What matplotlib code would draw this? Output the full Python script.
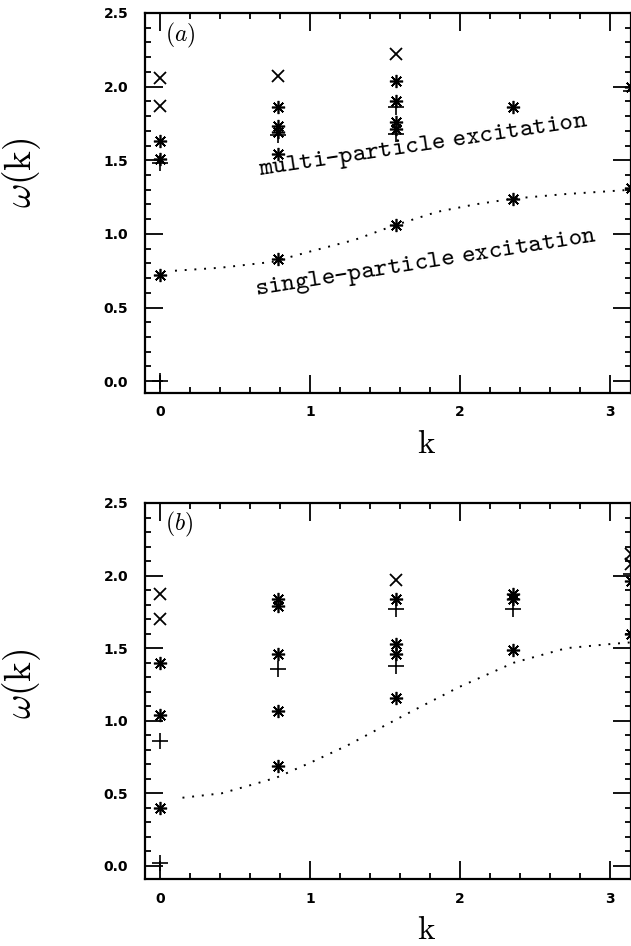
import numpy as np
import matplotlib
matplotlib.use("Agg")
import matplotlib.pyplot as plt
from matplotlib.ticker import MultipleLocator, FormatStrFormatter

plt.rcParams['mathtext.fontset'] = 'cm'
plt.rcParams['font.family'] = ['DejaVu Sans']

# panel (a) data
a_cross_k = [0.0, 0.0, 0.785, 1.571]
a_cross_w = [2.06, 1.87, 2.07, 2.22]
a_star_k = [0.0, 0.0, 0.0, 0.785, 0.785, 0.785, 0.785, 0.785,
            1.571, 1.571, 1.571, 1.571, 1.571, 2.356, 2.356, 3.1416, 3.1416]
a_star_w = [1.63, 1.51, 0.72, 1.86, 1.73, 1.69, 1.54, 0.83,
            2.04, 1.90, 1.76, 1.71, 1.06, 1.86, 1.24, 2.00, 1.31]
a_plus_k = [0.0, 0.0, 0.785, 1.571, 1.571, 3.1416]
a_plus_w = [1.48, 0.0, 1.67, 1.86, 1.68, 1.97]
a_curve_k = [0.1, 0.4, 0.75, 1.0, 1.3, 1.57, 1.85, 2.1, 2.36, 2.7, 3.0, 3.1416]
a_curve_w = [0.75, 0.77, 0.81, 0.88, 0.96, 1.06, 1.15, 1.20, 1.24, 1.27, 1.29, 1.30]

# panel (b) data
b_cross_k = [0.0, 0.0, 1.571, 3.1416, 3.1416]
b_cross_w = [1.87, 1.70, 1.97, 2.15, 2.08]
b_star_k = [0.0, 0.0, 0.0, 0.785, 0.785, 0.785, 0.785, 0.785,
            1.571, 1.571, 1.571, 1.571, 2.356, 2.356, 2.356, 3.1416, 3.1416]
b_star_w = [1.40, 1.04, 0.40, 1.84, 1.79, 1.46, 1.07, 0.69,
            1.84, 1.53, 1.46, 1.16, 1.87, 1.84, 1.49, 1.96, 1.60]
b_plus_k = [0.0, 0.0, 0.785, 1.571, 1.571, 2.356, 3.1416]
b_plus_w = [0.86, 0.02, 1.36, 1.77, 1.38, 1.77, 2.01]
b_curve_k = [0.15, 0.41, 0.65, 0.78, 1.0, 1.25, 1.45, 1.67, 1.99, 2.36, 2.71, 3.02, 3.1416]
b_curve_w = [0.47, 0.50, 0.57, 0.61, 0.71, 0.83, 0.94, 1.06, 1.23, 1.40, 1.50, 1.53, 1.54]

fig = plt.figure(figsize=(6.31, 9.46), dpi=100)
ax_a = fig.add_axes([0.2298, 0.5846, 0.7702, 0.4017])
ax_b = fig.add_axes([0.2298, 0.0708, 0.7702, 0.3975])

asterisk = (8, 2, 0)


def draw_panel(ax, cross_k, cross_w, star_k, star_w, plus_k, plus_w, curve_k, curve_w, ylo, tag):
    ax.plot(curve_k, curve_w, color='black', lw=1.4, ls=(0, (1, 4)))
    ax.plot(cross_k, cross_w, ls='none', marker='x', ms=8.5, mew=1.3, color='black')
    ax.plot(star_k, star_w, ls='none', marker=asterisk, ms=9.5, mew=1.2, color='black')
    ax.plot(plus_k, plus_w, ls='none', marker='+', ms=11, mew=1.2, color='black')

    ax.set_xlim(-0.1, 3.1416)
    ax.set_ylim(ylo, 2.5)
    ax.xaxis.set_major_locator(MultipleLocator(1))
    ax.xaxis.set_minor_locator(MultipleLocator(0.2))
    ax.yaxis.set_major_locator(MultipleLocator(0.5))
    ax.yaxis.set_minor_locator(MultipleLocator(0.1))
    ax.yaxis.set_major_formatter(FormatStrFormatter('%.1f'))
    ax.tick_params(which='both', direction='in', top=True, right=True, width=1.3)
    ax.tick_params(which='major', length=13, labelsize=10)
    ax.tick_params(axis='y', which='major', pad=12)
    ax.tick_params(axis='x', which='major', pad=9)
    ax.tick_params(which='minor', length=4)
    for lbl in ax.get_xticklabels() + ax.get_yticklabels():
        lbl.set_fontweight('bold')
    for sp in ax.spines.values():
        sp.set_linewidth(1.6)

    ax.set_xlabel(r'$\mathrm{k}$', fontsize=24)
    ax.set_ylabel(r'$\omega(\mathrm{k})$', fontsize=27)
    ax.xaxis.set_label_coords(0.58, -0.09)
    ax.text(0.041, 0.942, tag, transform=ax.transAxes, fontsize=17, va='center', ha='left')


draw_panel(ax_a, a_cross_k, a_cross_w, a_star_k, a_star_w, a_plus_k, a_plus_w,
           a_curve_k, a_curve_w, -0.08, r'$(a)$')
draw_panel(ax_b, b_cross_k, b_cross_w, b_star_k, b_star_w, b_plus_k, b_plus_w,
           b_curve_k, b_curve_w, -0.09, r'$(b)$')
ax_a.yaxis.set_label_coords(-0.21, 0.58)
ax_b.yaxis.set_label_coords(-0.21, 0.52)

ax_a.text(1.76, 1.60, r'$\mathtt{multi}$–$\mathtt{particle\ excitation}$', fontsize=18.5,
          rotation=8.5, ha='center', va='center')
ax_a.text(1.77, 0.80, r'$\mathtt{single}$–$\mathtt{particle\ excitation}$', fontsize=18.5,
          rotation=9, ha='center', va='center')

fig.savefig('out.png', dpi=100)
